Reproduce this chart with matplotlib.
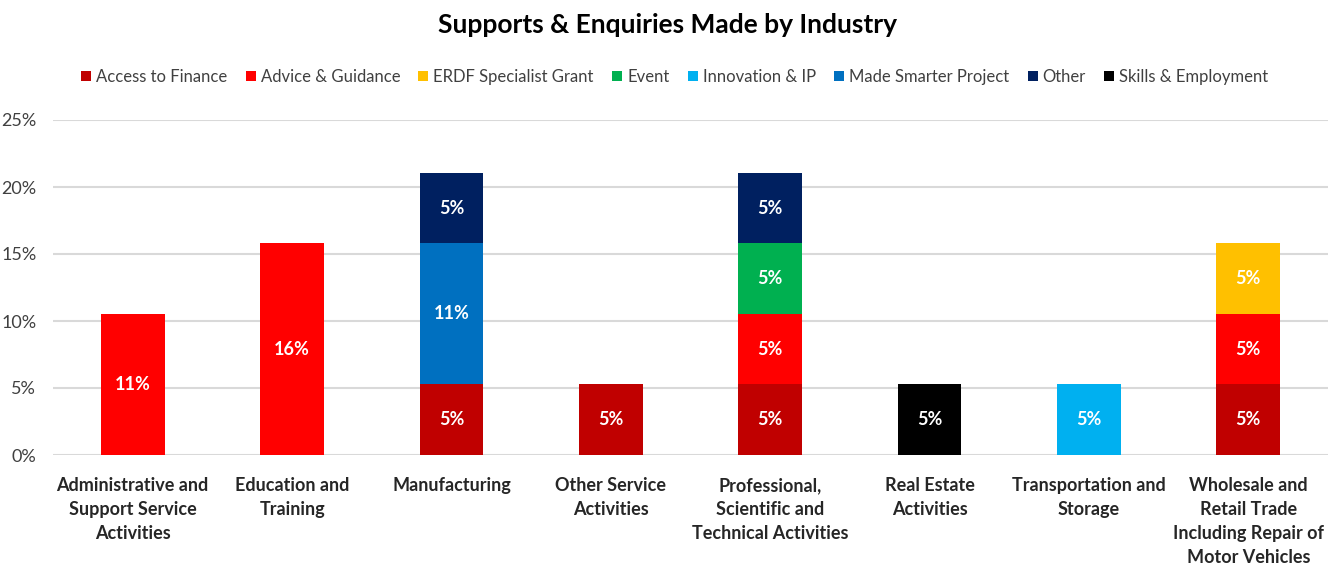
import matplotlib
matplotlib.use("Agg")
import matplotlib.pyplot as plt
import numpy as np

plt.rcParams['font.family'] = ['Lato', 'DejaVu Sans']

categories = ["Administrative and\nSupport Service\nActivities", "Education and\nTraining", "Manufacturing",
              "Other Service\nActivities", "Professional,\nScientific and\nTechnical Activities",
              "Real Estate\nActivities", "Transportation and\nStorage",
              "Wholesale and\nRetail Trade\nIncluding Repair of\nMotor Vehicles"]
series_names = ["Access to Finance", "Advice & Guidance", "ERDF Specialist Grant", "Event",
                "Innovation & IP", "Made Smarter Project", "Other", "Skills & Employment"]
colors = ["#C00000", "#FF0000", "#FFC000", "#00B050", "#00B0F0", "#0070C0", "#002060", "#000000"]

u = 100 / 19
access = [0, 0, u, u, u, 0, 0, u]
advice = [2 * u, 3 * u, 0, 0, u, 0, 0, u]
erdf = [0, 0, 0, 0, 0, 0, 0, u]
event = [0, 0, 0, 0, u, 0, 0, 0]
innovation = [0, 0, 0, 0, 0, 0, u, 0]
made_smarter = [0, 0, 2 * u, 0, 0, 0, 0, 0]
other = [0, 0, u, 0, u, 0, 0, 0]
skills = [0, 0, 0, 0, 0, u, 0, 0]
series = [access, advice, erdf, event, innovation, made_smarter, other, skills]

fig = plt.figure(figsize=(13.36, 5.64), dpi=100)
ax = fig.add_axes([53 / 1336, 1 - 455 / 564, 1275 / 1336, 335 / 564])

x = np.arange(len(categories))
bottom = np.zeros(len(categories))
for name, vals, c in zip(series_names, series, colors):
    vals = np.array(vals)
    bars = ax.bar(x, vals, width=0.4, bottom=bottom, color=c, label=name, zorder=3)
    for xi, v, b in zip(x, vals, bottom):
        if v > 0:
            ax.text(xi, b + v / 2, f"{v:.0f}%", ha='center', va='center', color='white',
                    fontsize=13, fontweight='bold', zorder=4)
    bottom += vals

ax.set_xlim(-0.5, len(categories) - 0.5)
ax.set_ylim(0, 25)
ax.set_yticks(np.arange(0, 26, 5))
ax.set_yticklabels([f"{t}%" for t in range(0, 26, 5)], fontsize=13, color='#404040')
ax.yaxis.grid(True, color='#D9D9D9', linewidth=1.5, zorder=0)
ax.set_xticks(x)
ax.set_xticklabels(categories, fontsize=13, fontweight='bold', color='#262626', va='top', linespacing=1.5)
ax.tick_params(axis='both', length=0)
ax.tick_params(axis='x', pad=16)
ax.tick_params(axis='y', pad=12)
for s in ax.spines.values():
    s.set_visible(False)

fig.suptitle("Supports & Enquiries Made by Industry", x=0.5, y=1 - 25 / 564, va='center',
             fontsize=19, fontweight='bold', color='black')
fig.legend(loc='center', bbox_to_anchor=(0.505, 1 - 77 / 564), ncol=8, frameon=False,
           fontsize=12, handlelength=0.6, handleheight=0.6, handletextpad=0.3, columnspacing=1.1,
           labelcolor='#404040')

fig.savefig("out.png", dpi=100)
